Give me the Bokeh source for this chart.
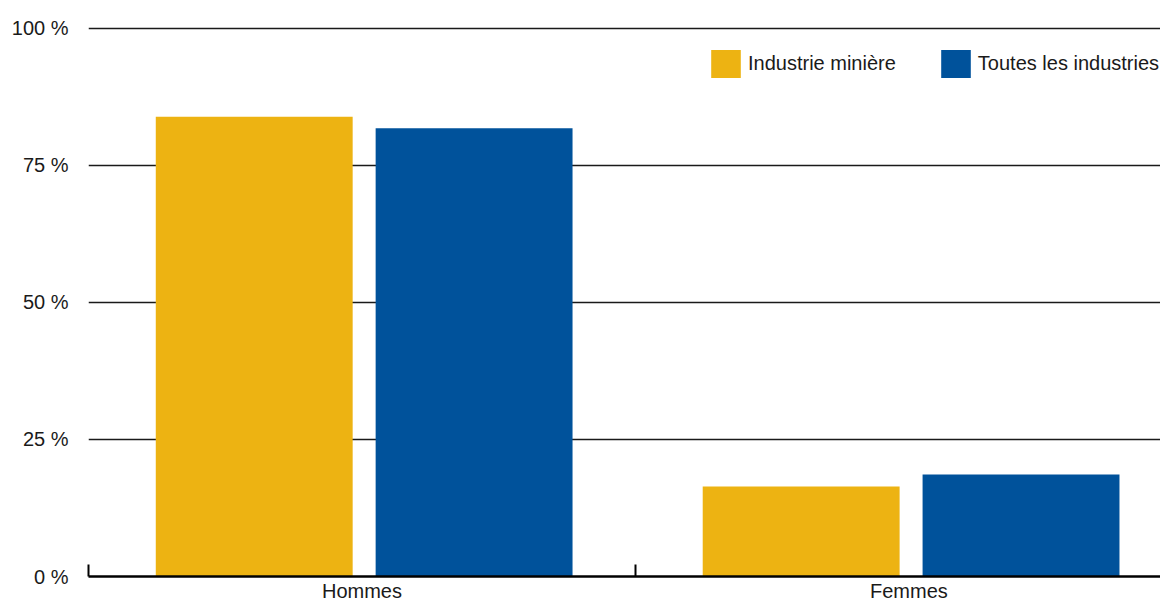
from bokeh.plotting import figure
from bokeh.models import Range1d, FixedTicker, Legend, LegendItem, ColumnDataSource
from bokeh.embed import file_html
from bokeh.resources import INLINE

categories = ["Hommes", "Femmes"]
series_names = ["Industrie minière", "Toutes les industries"]
mining = [83.9, 16.4]
all_industries = [81.8, 18.6]
y_ticks = [0, 25, 50, 75, 100]
y_tick_labels = ["0 %", "25 %", "50 %", "75 %", "100 %"]

YELLOW = "#EDB312"
BLUE = "#00529B"
TEXT = "#1a1a1a"
FONT = "Liberation Sans"
FS = "20px"

n = len(categories)
src = ColumnDataSource(dict(
    cat=categories,
    x_min=[i + 0.303 for i in range(n)],
    x_all=[i + 0.705 for i in range(n)],
    mining=mining,
    all_ind=all_industries,
))

p = figure(width=1160, height=604,
           x_range=Range1d(0, 1.96), y_range=Range1d(0, 100.35),
           output_backend="svg", toolbar_location=None,
           min_border_left=88, min_border_right=0,
           min_border_top=26, min_border_bottom=28)
p.outline_line_color = None
p.background_fill_color = "white"
p.border_fill_color = "white"

r1 = p.vbar(x="x_min", top="mining", bottom=0, width=0.36, source=src,
            fill_color=YELLOW, line_color=None)
r2 = p.vbar(x="x_all", top="all_ind", bottom=0, width=0.36, source=src,
            fill_color=BLUE, line_color=None)

# grid
p.xgrid.visible = False
p.ygrid.ticker = FixedTicker(ticks=y_ticks[1:])
p.ygrid.grid_line_color = TEXT
p.ygrid.grid_line_width = 1.5

# y axis
yax = p.yaxis[0]
yax.ticker = FixedTicker(ticks=y_ticks)
yax.major_label_overrides = {t: l for t, l in zip(y_ticks, y_tick_labels)}
yax.axis_line_color = None
yax.major_tick_line_color = None
yax.minor_tick_line_color = None
yax.major_tick_in = 0
yax.major_tick_out = 0
yax.major_label_standoff = 20
yax.major_label_text_font = FONT
yax.major_label_text_font_size = FS
yax.major_label_text_color = TEXT

# x axis: labels at category centres, ticks at category boundaries
xax = p.xaxis[0]
centers = [i + 0.5 for i in range(n)]
xax.ticker = FixedTicker(ticks=centers, minor_ticks=list(range(n + 1)))
xax.major_label_overrides = {c: l for c, l in zip(centers, categories)}
xax.major_tick_line_color = None
xax.major_tick_in = 0
xax.major_tick_out = 0
xax.minor_tick_in = 12
xax.minor_tick_out = 0
xax.minor_tick_line_color = "black"
xax.minor_tick_line_width = 2
xax.axis_line_color = "black"
xax.axis_line_width = 2.5
xax.major_label_standoff = 3
xax.major_label_text_font = FONT
xax.major_label_text_font_size = FS
xax.major_label_text_color = TEXT

legend = Legend(
    items=[LegendItem(label=series_names[0], renderers=[r1]),
           LegendItem(label=series_names[1], renderers=[r2])],
    orientation="horizontal", location=(619, 495),
    glyph_width=37, glyph_height=35, label_standoff=4, spacing=41,
    padding=0, margin=0, border_line_color=None, background_fill_alpha=0,
    label_text_font=FONT, label_text_font_size=FS, label_text_color=TEXT,
)
p.add_layout(legend)

open("out.html", "w").write(file_html(p, INLINE))
